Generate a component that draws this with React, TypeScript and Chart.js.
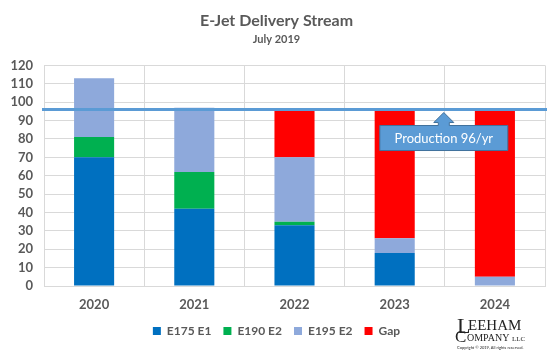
import React, { useEffect, useRef } from "react";
import { Chart, registerables } from "chart.js";

Chart.register(...registerables);

const categories = ["2020", "2021", "2022", "2023", "2024"];
const e175E1 = [70, 42, 33, 18, 0];
const e190E2 = [11, 20, 2, 0, 0];
const e195E2 = [32, 35, 35, 8, 5];
const gapValues = [0, 0, 26, 70, 91];
const productionRate = 96;
const productionLabel = "Production 96/yr";
const yMin = 0;
const yMax = 120;

const FONT = "Lato, 'Open Sans', sans-serif";
const GRAY = "#595959";

const productionPlugin = {
  id: "productionLine",
  afterDatasetsDraw(chart: any) {
    const { ctx, chartArea, scales } = chart;
    const y = scales.y.getPixelForValue(productionRate);
    ctx.save();
    ctx.strokeStyle = "#5B9BD5";
    ctx.lineWidth = 3;
    ctx.beginPath();
    ctx.moveTo(chartArea.left - 2, y);
    ctx.lineTo(chartArea.right + 2, y);
    ctx.stroke();

    // callout with up arrow
    const cx = (scales.x.getPixelForValue(3) + scales.x.getPixelForValue(4)) / 2 - 1;
    const tipY = y + 3;
    const headBase = tipY + 10;
    const boxTop = headBase + 3;
    const boxBottom = boxTop + 25;
    const boxL = cx - 64;
    const boxR = cx + 64;
    ctx.beginPath();
    ctx.moveTo(boxL, boxTop);
    ctx.lineTo(cx - 5.5, boxTop);
    ctx.lineTo(cx - 5.5, headBase);
    ctx.lineTo(cx - 10, headBase);
    ctx.lineTo(cx, tipY);
    ctx.lineTo(cx + 10, headBase);
    ctx.lineTo(cx + 5.5, headBase);
    ctx.lineTo(cx + 5.5, boxTop);
    ctx.lineTo(boxR, boxTop);
    ctx.lineTo(boxR, boxBottom);
    ctx.lineTo(boxL, boxBottom);
    ctx.closePath();
    ctx.fillStyle = "#5B9BD5";
    ctx.fill();
    ctx.strokeStyle = "#41719C";
    ctx.lineWidth = 1;
    ctx.stroke();
    ctx.fillStyle = "#FFFFFF";
    ctx.font = `13px ${FONT}`;
    ctx.textAlign = "center";
    ctx.textBaseline = "middle";
    ctx.fillText(productionLabel, cx, (boxTop + boxBottom) / 2 + 1);
    ctx.restore();
  },
};

const logoPlugin = {
  id: "logo",
  afterDraw(chart: any) {
    const { ctx } = chart;
    ctx.save();
    ctx.fillStyle = "#222222";
    ctx.textBaseline = "alphabetic";
    ctx.textAlign = "left";
    ctx.font = `22px 'Liberation Serif', 'DejaVu Serif', serif`;
    ctx.fillText("L", 457, 333);
    ctx.font = `15px 'Liberation Serif', 'DejaVu Serif', serif`;
    ctx.fillText("EEHAM", 468, 330);
    ctx.font = `17px 'Liberation Serif', 'DejaVu Serif', serif`;
    ctx.fillText("C", 455, 342);
    ctx.font = `10px 'Liberation Serif', 'DejaVu Serif', serif`;
    ctx.fillText("OMPANY", 467, 341);
    ctx.font = `7px 'Liberation Serif', 'DejaVu Serif', serif`;
    ctx.fillText("LLC", 512, 341);
    ctx.font = `4px ${FONT}`;
    ctx.fillText("Copyright \u00A9 2019, All rights reserved.", 457, 349);
    ctx.restore();
  },
};

export default function App() {
  const canvasRef = useRef<HTMLCanvasElement | null>(null);

  useEffect(() => {
    document.body.style.margin = "0";
    const canvas = canvasRef.current;
    if (!canvas) return;
    const chart = new Chart(canvas, {
      type: "bar",
      data: {
        labels: categories,
        datasets: [
          { label: "E175 E1", data: e175E1, backgroundColor: "#0070C0" },
          { label: "E190 E2", data: e190E2, backgroundColor: "#00B050" },
          { label: "E195 E2", data: e195E2, backgroundColor: "#8EA9DB" },
          { label: "Gap", data: gapValues, backgroundColor: "#FF0000" },
        ],
      },
      options: {
        animation: false,
        responsive: false,
        maintainAspectRatio: false,
        datasets: {
          bar: { barPercentage: 0.4, categoryPercentage: 1.0 },
        },
        layout: { padding: { left: 8, right: 14, top: 0, bottom: 6 } },
        plugins: {
          title: {
            display: true,
            text: "E-Jet Delivery Stream",
            color: GRAY,
            font: { family: FONT, size: 16, weight: "bold" },
            padding: { top: 11, bottom: 3 },
          },
          subtitle: {
            display: true,
            text: "July 2019",
            color: GRAY,
            font: { family: FONT, size: 11, weight: "bold" },
            padding: { top: 0, bottom: 19 },
          },
          legend: {
            position: "bottom",
            labels: {
              color: GRAY,
              font: { family: FONT, size: 12, weight: "bold" },
              boxWidth: 8,
              boxHeight: 8,
              padding: 12,
            },
          },
          tooltip: { enabled: false },
        },
        scales: {
          x: {
            stacked: true,
            grid: { color: "#D9D9D9", offset: true, drawTicks: false },
            border: { color: "#D9D9D9" },
            ticks: {
              color: GRAY,
              font: { family: FONT, size: 13, weight: "bold" },
              padding: 11,
            },
            afterFit(scale: any) {
              scale.height = 27;
            },
          },
          y: {
            stacked: true,
            min: yMin,
            max: yMax,
            grid: {
              drawTicks: false,
              color: (c: any) => (c.tick && c.tick.value % 10 === 0 ? "#D9D9D9" : "#F2F2F2"),
            },
            border: { display: false },
            ticks: {
              stepSize: 2,
              autoSkip: false,
              color: GRAY,
              font: { family: FONT, size: 13, weight: "bold" },
              padding: 11,
              callback: (v: any) => (Number(v) % 10 === 0 ? String(v) : null),
            },
            afterFit(scale: any) {
              scale.width = 36;
            },
          },
        },
      },
      plugins: [productionPlugin, logoPlugin],
    } as any);
    return () => chart.destroy();
  }, []);

  return (
    <div style={{ position: "fixed", left: 0, top: 0, width: 559, height: 353, background: "#fff" }}>
      <canvas ref={canvasRef} width={559} height={353} style={{ width: 559, height: 353 }} />
    </div>
  );
}
